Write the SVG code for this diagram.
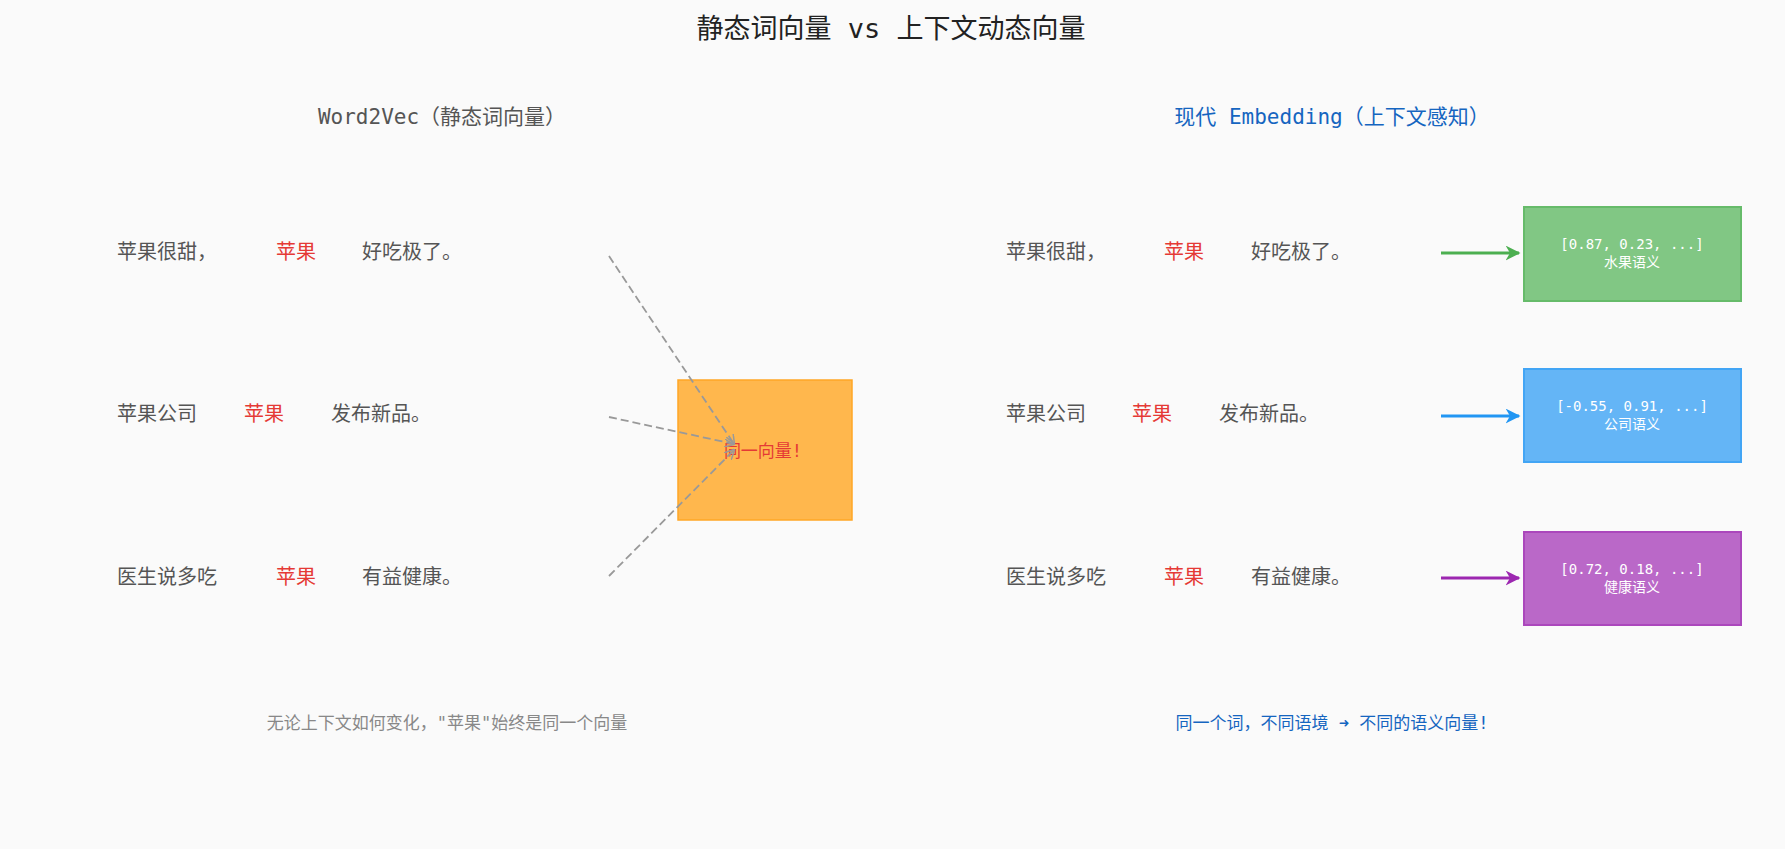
<svg xmlns="http://www.w3.org/2000/svg" width="1785" height="849" viewBox="0 0 1785 849">
<style>
text{font-family:"DejaVu Sans Mono","Noto Sans CJK SC",monospace}
.row{font-size:20px;fill:#555}
.red{font-size:20px;fill:#e53935}
.box{font-size:14px;fill:#fff}
.dash{stroke:#999;stroke-width:1.8;stroke-dasharray:8,4;fill:none}
</style>
<defs>
<marker id="ag" viewBox="0 0 10 10" refX="9" refY="5" markerWidth="10" markerHeight="10" markerUnits="userSpaceOnUse" orient="auto"><path d="M0,0L10,5L0,10" fill="none" stroke="#999" stroke-width="1.5"/></marker>
<marker id="g" viewBox="0 0 10 10" refX="9" refY="5" markerWidth="5" markerHeight="5" orient="auto"><path d="M0,0L10,5L0,10L3,5z" fill="#4caf50"/></marker>
<marker id="b" viewBox="0 0 10 10" refX="9" refY="5" markerWidth="5" markerHeight="5" orient="auto"><path d="M0,0L10,5L0,10L3,5z" fill="#2196f3"/></marker>
<marker id="p" viewBox="0 0 10 10" refX="9" refY="5" markerWidth="5" markerHeight="5" orient="auto"><path d="M0,0L10,5L0,10L3,5z" fill="#9c27b0"/></marker>
</defs>
<rect width="1785" height="849" fill="#fafafa"/>
<text x="891" y="38" text-anchor="middle" font-size="27" fill="#222">静态词向量 vs 上下文动态向量</text>
<text x="442" y="124" text-anchor="middle" font-size="21" fill="#555">Word2Vec（静态词向量）</text>
<text x="1332" y="124" text-anchor="middle" font-size="21" fill="#1565c0">现代 Embedding（上下文感知）</text>
<g id="left-rows">
<text class="row" x="117" y="259">苹果很甜，</text><text class="red" x="296" y="259" text-anchor="middle">苹果</text><text class="row" x="362" y="259">好吃极了。</text>
<text class="row" x="117" y="421">苹果公司</text><text class="red" x="264" y="421" text-anchor="middle">苹果</text><text class="row" x="331" y="421">发布新品。</text>
<text class="row" x="117" y="584">医生说多吃</text><text class="red" x="296" y="584" text-anchor="middle">苹果</text><text class="row" x="362" y="584">有益健康。</text>
</g>
<g id="same-vector">
<rect x="678" y="380" width="174" height="140" fill="#ffb74d" stroke="#ffa726" stroke-width="1.5"/>
<text x="763" y="457" text-anchor="middle" font-size="17" fill="#e53935">同一向量!</text>
</g>
<g id="right-rows">
<text class="row" x="1006" y="259">苹果很甜，</text><text class="red" x="1184" y="259" text-anchor="middle">苹果</text><text class="row" x="1251" y="259">好吃极了。</text>
<text class="row" x="1006" y="421">苹果公司</text><text class="red" x="1152" y="421" text-anchor="middle">苹果</text><text class="row" x="1219" y="421">发布新品。</text>
<text class="row" x="1006" y="584">医生说多吃</text><text class="red" x="1184" y="584" text-anchor="middle">苹果</text><text class="row" x="1251" y="584">有益健康。</text>
</g>
<g id="box-fruit">
<rect x="1524" y="207" width="217" height="94" fill="#81c784" stroke="#66bb6a" stroke-width="2"/>
<text class="box" x="1632" y="249" text-anchor="middle">[0.87, 0.23, ...]</text>
<text class="box" x="1632" y="267" text-anchor="middle">水果语义</text>
</g>
<g id="box-company">
<rect x="1524" y="369" width="217" height="93" fill="#64b5f6" stroke="#42a5f5" stroke-width="2"/>
<text class="box" x="1632" y="411" text-anchor="middle">[-0.55, 0.91, ...]</text>
<text class="box" x="1632" y="429" text-anchor="middle">公司语义</text>
</g>
<g id="box-health">
<rect x="1524" y="532" width="217" height="93" fill="#ba68c8" stroke="#ab47bc" stroke-width="2"/>
<text class="box" x="1632" y="574" text-anchor="middle">[0.72, 0.18, ...]</text>
<text class="box" x="1632" y="592" text-anchor="middle">健康语义</text>
</g>
<g id="connectors">
<path class="dash" d="M609,256L734,444" marker-end="url(#ag)"/>
<path class="dash" d="M609,417L734,444" marker-end="url(#ag)"/>
<path class="dash" d="M609,576L734,450" marker-end="url(#ag)"/>
<path d="M1441,253L1519,253" stroke="#4caf50" stroke-width="3" marker-end="url(#g)"/>
<path d="M1441,416L1519,416" stroke="#2196f3" stroke-width="3" marker-end="url(#b)"/>
<path d="M1441,578L1519,578" stroke="#9c27b0" stroke-width="3" marker-end="url(#p)"/>
</g>
<text x="447" y="729" text-anchor="middle" font-size="17" fill="#888">无论上下文如何变化，"苹果"始终是同一个向量</text>
<text x="1332" y="729" text-anchor="middle" font-size="17" fill="#1565c0">同一个词，不同语境 ➜ 不同的语义向量!</text>
</svg>
